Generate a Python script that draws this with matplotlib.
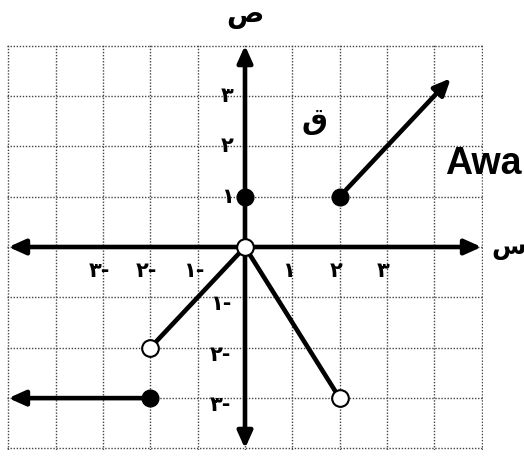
import matplotlib
matplotlib.use('Agg')
import matplotlib.pyplot as plt

# piecewise graph pieces (data units)
ray_up_start = (2, 1)
ray_up_end = (4.35, 3.35)
seg_left = [(0, 0), (-2, -2)]
seg_right = [(0, 0), (2, -3)]
ray_left_start = (-2, -3)
ray_left_end = (-5, -3)
filled_pts_x = [0, 2, -2]
filled_pts_y = [1, 1, -3]
open_pts_x = [0, -2, 2]
open_pts_y = [0, -2, -3]

xtick_vals = [-3, -2, -1, 1, 2, 3]
xtick_labels = ['٣-', '٢-', '١-', '١', '٢', '٣']
ytick_vals = [3, 2, 1, -1, -2, -3]
ytick_labels = ['٣', '٢', '١', '١-', '٢-', '٣-']

plt.rcParams['font.family'] = ['DejaVu Sans']

fig = plt.figure(figsize=(5.24, 4.57), dpi=100)
ax = fig.add_axes([7 / 524, 7 / 457, 476 / 524, 406 / 457])
ax.set_xlim(-5.03, 5.03)
ax.set_ylim(-4.03, 4.03)
for s in ax.spines.values():
    s.set_visible(False)
ax.set_xticks(range(-5, 6))
ax.set_yticks(range(-4, 5))
ax.tick_params(length=0, labelbottom=False, labelleft=False)
ax.grid(True, color='#444444', linestyle=(0, (1, 1.2)), linewidth=1.0)
ax.set_axisbelow(True)

# axes with arrows
arrow = dict(arrowstyle='<|-|>,head_length=1.0,head_width=0.45', color='black', lw=3.3, shrinkA=0, shrinkB=0)
ax.annotate('', xy=(-5, 0), xytext=(5, 0), arrowprops=arrow)
ax.annotate('', xy=(0, -4), xytext=(0, 4), arrowprops=arrow)

one_arrow = dict(arrowstyle='-|>,head_length=1.0,head_width=0.45', color='black', lw=3.3, shrinkA=0, shrinkB=0)
ax.annotate('', xy=ray_up_end, xytext=ray_up_start, arrowprops=one_arrow)
ax.annotate('', xy=ray_left_end, xytext=ray_left_start, arrowprops=one_arrow)

for seg in (seg_left, seg_right):
    ax.plot([p[0] for p in seg], [p[1] for p in seg], color='black', lw=3.3, solid_capstyle='round', zorder=3)

ax.plot(filled_pts_x, filled_pts_y, 'o', color='black', markersize=12, zorder=5)
ax.plot(open_pts_x, open_pts_y, 'o', markerfacecolor='white', markeredgecolor='black',
        markeredgewidth=1.5, markersize=12, zorder=5)

for v, lab in zip(xtick_vals, xtick_labels):
    ax.text(v - 0.08, -0.47, lab, ha='center', va='center', fontsize=15, fontweight='bold')
for v, lab in zip(ytick_vals, ytick_labels):
    xx = -0.38 if v > 0 else -0.52
    ax.text(xx, v - (0.0 if v > 0 else 0.14), lab, ha='center', va='center', fontsize=15, fontweight='bold')

ax.text(0, 4.6, 'ص', ha='center', va='center', fontsize=20, fontweight='bold', clip_on=False)
ax.text(5.2, -0.02, 'س', ha='left', va='center', fontsize=18, fontweight='bold', clip_on=False)
ax.text(1.47, 2.5, 'ق', ha='center', va='center', fontsize=21, fontweight='bold')
ax.text(4.22, 1.44, 'Awa', ha='left', va='baseline', fontsize=27, fontweight='bold',
        family='Liberation Sans', clip_on=False)

fig.savefig('out.png', dpi=100)
